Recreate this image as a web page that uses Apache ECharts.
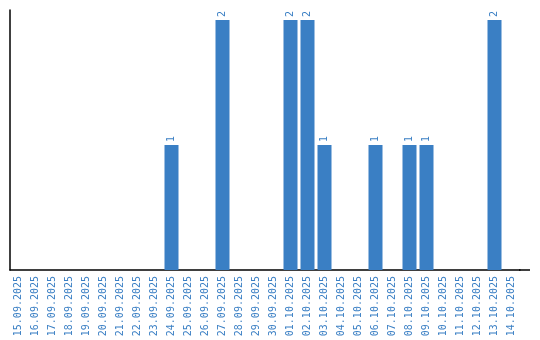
<!DOCTYPE html>
<html><head><meta charset="utf-8">
<script src="https://cdn.jsdelivr.net/npm/echarts@6/dist/echarts.min.js"></script>
<style>html,body{margin:0;padding:0;background:#fff}#c{width:540px;height:340px}</style>
</head><body><div id="c"></div>
<script>
const categories = ["15.09.2025","16.09.2025","17.09.2025","18.09.2025","19.09.2025","20.09.2025","21.09.2025","22.09.2025","23.09.2025","24.09.2025","25.09.2025","26.09.2025","27.09.2025","28.09.2025","29.09.2025","30.09.2025","01.10.2025","02.10.2025","03.10.2025","04.10.2025","05.10.2025","06.10.2025","07.10.2025","08.10.2025","09.10.2025","10.10.2025","11.10.2025","12.10.2025","13.10.2025","14.10.2025"];
const counts = [0,0,0,0,0,0,0,0,0,1,0,0,2,0,0,0,2,2,1,0,0,1,0,1,1,0,0,0,2,0];
const blue = '#3a7fc4';
const chart = echarts.init(document.getElementById('c'));
chart.setOption({
  animation:false,
  grid:{left:10,right:20,top:10,bottom:70,containLabel:false},
  xAxis:{type:'category',data:categories,
    axisLine:{lineStyle:{color:'#000',width:1.5}},
    axisTick:{show:false},
    axisLabel:{rotate:90,interval:0,color:blue,fontFamily:'DejaVu Sans Mono',fontSize:10,margin:6}},
  yAxis:{type:'value',min:0,max:2.08,splitLine:{show:false},
    axisLine:{show:true,lineStyle:{color:'#000',width:1.5}},
    axisTick:{show:false},axisLabel:{show:false}},
  series:[{type:'bar',data:counts.map(v=>v===0?null:v),barWidth:14,
    itemStyle:{color:blue},
    label:{show:true,position:'top',rotate:90,align:'left',verticalAlign:'middle',distance:3,color:blue,fontFamily:'DejaVu Sans Mono',fontSize:10}}]
});
const y0 = chart.convertToPixel({yAxisIndex:0}, 0);
chart.setOption({graphic:[{type:'line',shape:{x1:519,y1:y0,x2:530,y2:y0},style:{stroke:'#000',lineWidth:1.5}}]});
</script></body></html>
